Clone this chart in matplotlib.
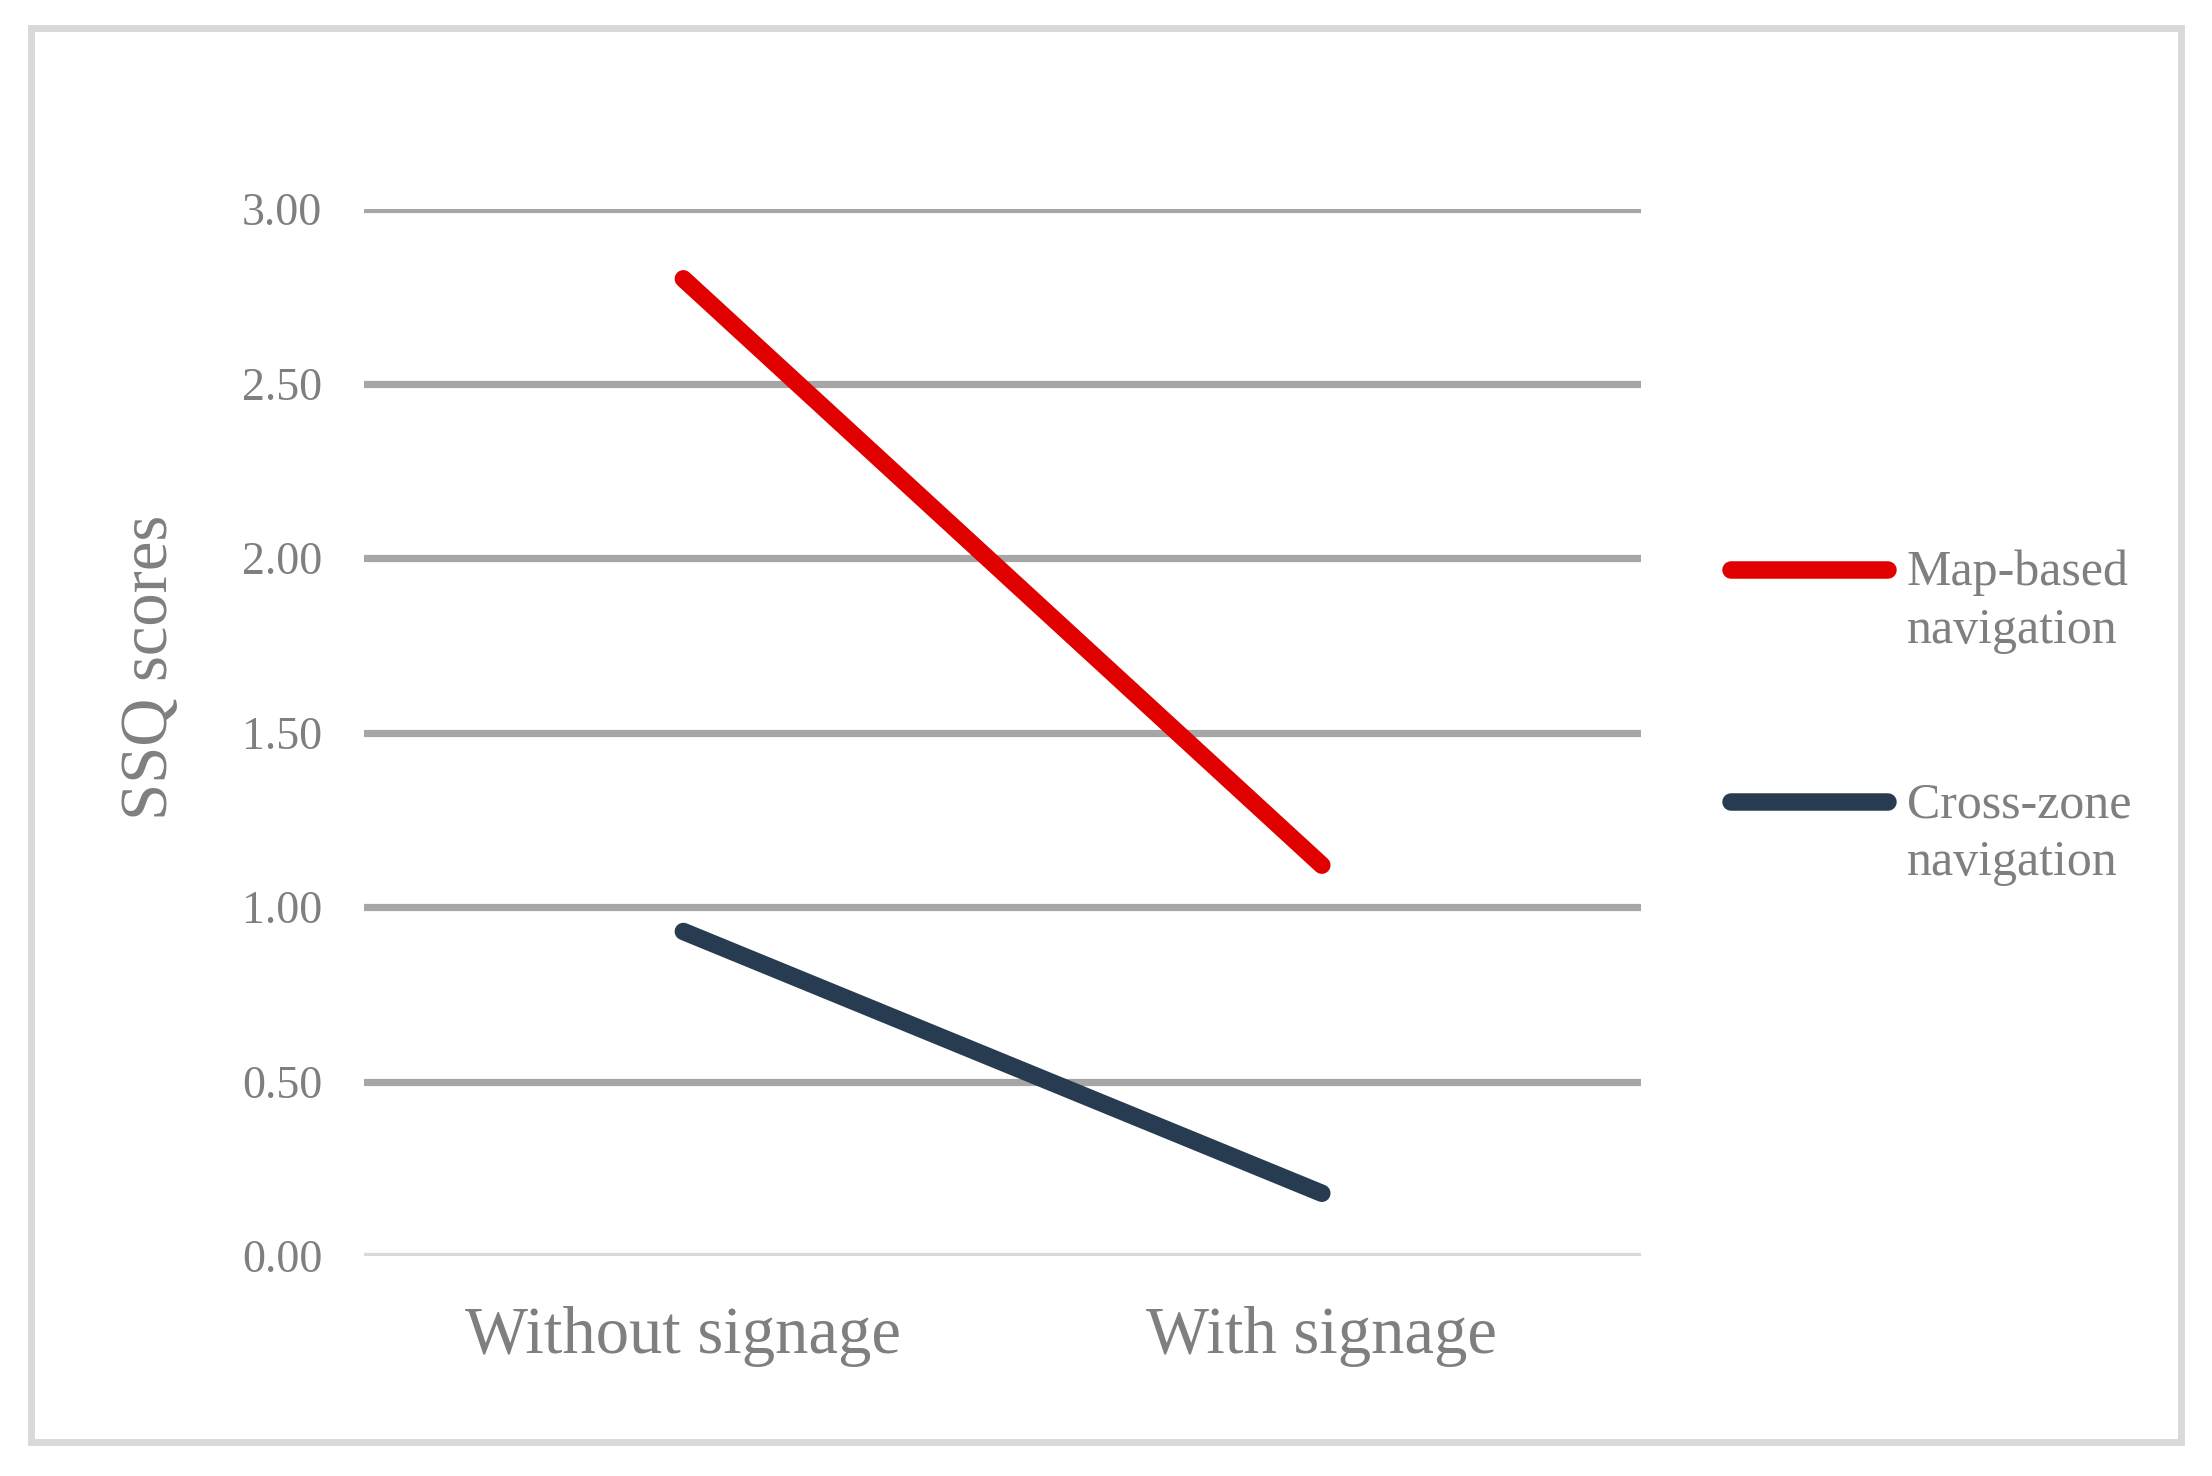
"""Line chart of SSQ scores with and without signage, per navigation mode."""
import matplotlib

matplotlib.use("Agg")
import matplotlib.pyplot as plt
from matplotlib.patches import Rectangle
from matplotlib.lines import Line2D

# Data
conditions = ["Without signage", "With signage"]
map_based = [2.80, 1.12]
cross_zone = [0.93, 0.18]
series_labels = [("Map-based", "navigation"), ("Cross-zone", "navigation")]
y_ticks = [0.0, 0.5, 1.0, 1.5, 2.0, 2.5, 3.0]

RED = "#E00000"
NAVY = "#283C51"
GREY_TXT = "#7F7F7F"

plt.rcParams["font.family"] = ["Liberation Serif", "DejaVu Serif"]

W, H = 2212, 1476
fig = plt.figure(figsize=(W / 200, H / 200), dpi=200)
ax = fig.add_axes([0.1646, 0.149, 0.5773, 0.7094])

x = range(len(conditions))
ax.plot(x, map_based, color=RED, lw=6.3, solid_capstyle="round", zorder=3)
ax.plot(x, cross_zone, color=NAVY, lw=6.3, solid_capstyle="round", zorder=3)

ax.set_xlim(-0.5, 1.5)
ax.set_ylim(0, 3.0)
ax.set_yticks(y_ticks)
ax.set_yticklabels([f"{v:.2f}" for v in y_ticks])
ax.set_xticks(list(x))
ax.set_xticklabels(conditions)

# horizontal gridlines, the zero line lighter
for v in y_ticks:
    ax.axhline(v, color="#D9D9D9" if v == 0 else "#A6A6A6", lw=2.6, zorder=1)

for s in ax.spines.values():
    s.set_visible(False)
ax.tick_params(axis="both", length=0, colors=GREY_TXT)
ax.tick_params(axis="y", labelsize=16.5, pad=15)
ax.tick_params(axis="x", labelsize=24, pad=18)
ax.set_ylabel("SSQ scores", fontsize=24, color=GREY_TXT, labelpad=22, y=0.562)

# legend drawn by hand so the key sits on the first line of the label
# (pixel positions in the 2212x1476 canvas)
key_y = [570, 802]
for (l1, l2), col, ky in zip(series_labels, [RED, NAVY], key_y):
    fig.add_artist(Line2D([1731 / W, 1888 / W], [1 - ky / H, 1 - ky / H],
                          color=col, lw=6.3, solid_capstyle="round",
                          transform=fig.transFigure))
    fig.text(1907 / W, 1 - (ky + 15) / H, l1, fontsize=18, color=GREY_TXT,
             va="baseline", ha="left")
    fig.text(1907 / W, 1 - (ky + 73) / H, l2, fontsize=18, color=GREY_TXT,
             va="baseline", ha="left")

# light grey frame round the whole figure
fig.patches.append(Rectangle((0.0142, 0.0230), 0.9716, 0.9581,
                             transform=fig.transFigure, fill=False,
                             edgecolor="#D9D9D9", lw=2.5))

fig.savefig("out.png", dpi=200, facecolor="white")
plt.close(fig)
